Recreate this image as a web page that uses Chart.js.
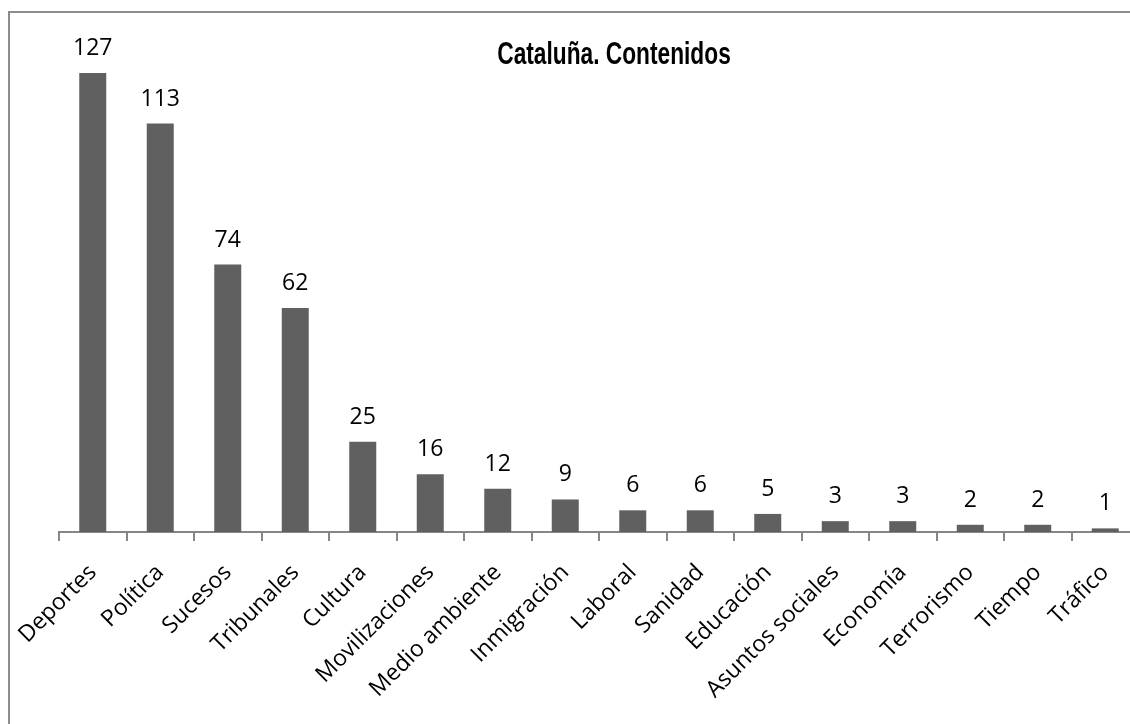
<!DOCTYPE html>
<html lang="es">
<head>
  <meta charset="UTF-8">
  <title>Cataluña. Contenidos</title>
  <script src="https://cdn.jsdelivr.net/npm/chart.js"></script>
  <style>
    html, body { margin: 0; padding: 0; background: #fff; overflow: hidden; }
    .marco {
      position: absolute; left: 8px; top: 11px;
      width: 1200px; height: 800px;
      border: 2px solid #8c8c8c; box-sizing: border-box;
    }
    .titulo {
      position: absolute; left: 0; width: 1228px; top: 35px;
      text-align: center;
      font-family: "Liberation Sans Narrow", "Arial Narrow", "Liberation Sans", sans-serif;
      font-weight: bold; font-size: 32px; color: #000;
      transform: scaleX(0.71); transform-origin: 614px 0;
    }
    #grafico { position: absolute; left: 0; top: 0; }
  </style>
</head>
<body>
  <div class="marco"></div>
  <canvas id="grafico" width="1160" height="724"></canvas>
  <div class="titulo">Cataluña. Contenidos</div>

<script>
  // datos
  const categorias = ["Deportes", "Política", "Sucesos", "Tribunales", "Cultura", "Movilizaciones",
    "Medio ambiente", "Inmigración", "Laboral", "Sanidad", "Educación", "Asuntos sociales",
    "Economía", "Terrorismo", "Tiempo", "Tráfico"];
  const valores = [127, 113, 74, 62, 25, 16, 12, 9, 6, 6, 5, 3, 3, 2, 2, 1];

  const fuente = "'Open Sans', 'Noto Sans', sans-serif";

  // etiquetas encima de cada barra
  const etiquetasBarras = {
    id: 'etiquetasBarras',
    afterDatasetsDraw(chart) {
      const ctx = chart.ctx;
      const meta = chart.getDatasetMeta(0);
      ctx.save();
      ctx.font = "23px " + fuente;
      ctx.fillStyle = "#000";
      ctx.textAlign = "center";
      ctx.textBaseline = "alphabetic";
      meta.data.forEach(function (barra, i) {
        ctx.fillText(valores[i], barra.x, barra.y - 18);
      });
      ctx.restore();
    }
  };

  new Chart(document.getElementById('grafico'), {
    type: 'bar',
    data: {
      labels: categorias,
      datasets: [{
        data: valores,
        backgroundColor: '#606060',
        borderWidth: 0,
        categoryPercentage: 1,
        barPercentage: 0.4
      }]
    },
    options: {
      responsive: false,
      animation: false,
      layout: { padding: { left: 59, right: 21, top: 26, bottom: 0 } },
      plugins: {
        legend: { display: false },
        tooltip: { enabled: false }
      },
      scales: {
        y: { display: false, min: 0, max: 140 },
        x: {
          afterFit(scale) { scale.height = 192; },
          border: { display: true, color: '#868686', width: 2 },
          grid: { drawOnChartArea: false, color: '#868686', lineWidth: 2, tickLength: 9, offset: true },
          ticks: {
            autoSkip: false,
            minRotation: 45,
            maxRotation: 45,
            padding: 18,
            color: '#000',
            font: { family: fuente, size: 23 }
          }
        }
      }
    },
    plugins: [etiquetasBarras]
  });
</script>
</body>
</html>
